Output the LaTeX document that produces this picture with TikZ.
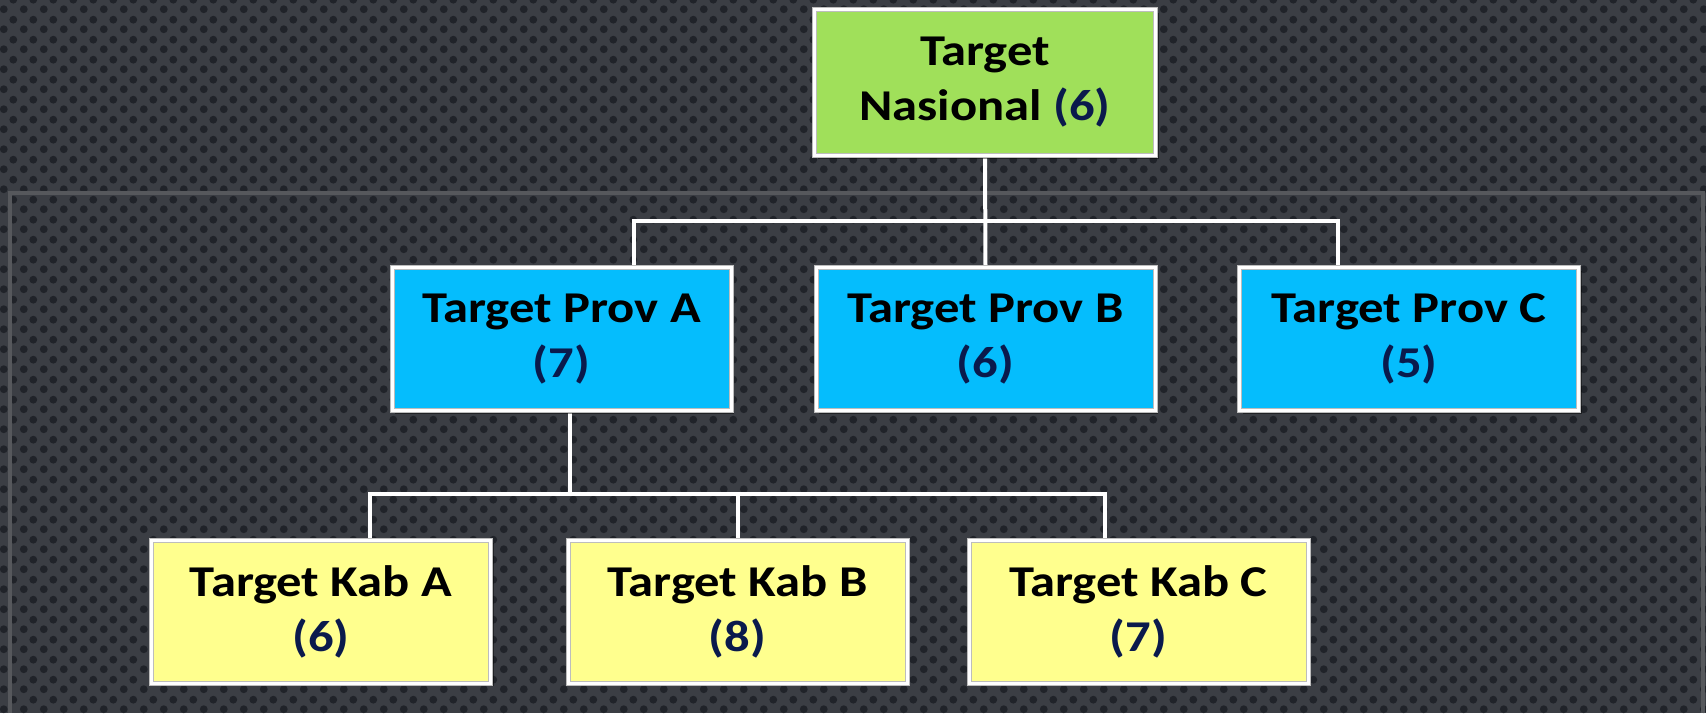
\documentclass[tikz,border=0pt]{standalone}
\usepackage{fontspec}
\setmainfont{Carlito}[FakeStretch=1.15]
\usetikzlibrary{patterns.meta,shadows}

\definecolor{bgbase}{HTML}{3B3E44}
\definecolor{bgdot}{HTML}{202329}
\definecolor{framegray}{HTML}{56585C}
\definecolor{natgreen}{HTML}{A0E05A}
\definecolor{provblue}{HTML}{05BDFD}
\definecolor{kabyellow}{HTML}{FFFF8E}
\definecolor{numnavy}{HTML}{0A1A4C}
\definecolor{rimgray}{HTML}{BDBDBD}

% perforated metal texture
\tikzdeclarepattern{
  name=perforated,
  type=uncolored,
  bounding box={(0pt,0pt) and (20pt,20pt)},
  tile size={(20pt,20pt)},
  code={
    \fill (5pt,5pt) circle (4.1pt);
    \fill (15pt,15pt) circle (4.1pt);
  }
}

\newcommand\targetcount[1]{\textcolor{numnavy}{(#1)}}

\pgfdeclarelayer{under}
\pgfsetlayers{under,main}

\begin{document}
\begin{tikzpicture}[x=1pt,y=-1pt,
  box/.style={rectangle, inner sep=0pt, align=center,
    font=\fontsize{44}{55}\selectfont\bfseries, text=black,
    draw=rimgray, double=white, double distance=3pt, line width=1pt,
    minimum width=339pt, minimum height=143pt,
    drop shadow={shadow xshift=3pt, shadow yshift=-3pt, opacity=0.45, fill=black}},
  natbox/.style={box, fill=natgreen, minimum width=341pt, minimum height=146pt},
  provbox/.style={box, fill=provblue},
  kabbox/.style={box, fill=kabyellow},
  conn/.style={draw=white, line width=4pt},
]
\useasboundingbox (0,0) rectangle (1706,713);

\begin{pgfonlayer}{under}
  \fill[bgbase] (0,0) rectangle (1706,713);
  \fill[pattern=perforated, pattern color=bgdot] (0,0) rectangle (1706,713);
  \draw[framegray, line width=4pt] (10,713) -- (10,193) -- (1703,193) -- (1703,713);
\end{pgfonlayer}

% national level
\node[natbox] (nat) at (985,82.5) {Target\\Nasional \targetcount{6}};

% provincial level
\node[provbox] (provA) at (561.5,339) {Target Prov A\\\targetcount{7}};
\node[provbox] (provB) at (985.5,339) {Target Prov B\\\targetcount{6}};
\node[provbox] (provC) at (1409,339) {Target Prov C\\\targetcount{5}};

% district level
\node[kabbox] (kabA) at (321,611.5) {Target Kab A\\\targetcount{6}};
\node[kabbox] (kabB) at (737.5,611.5) {Target Kab B\\\targetcount{8}};
\node[kabbox] (kabC) at (1138.5,611.5) {Target Kab C\\\targetcount{7}};

% bus junctions
\coordinate (busL) at (634,221);
\coordinate (busR) at (1338,221);
\coordinate (kabTop) at (570,494);
\coordinate (kabL) at (370,494);
\coordinate (kabR) at (1105,494);

\begin{pgfonlayer}{under}
  \draw[conn] (nat.south) -- (provB.north);
  \draw[conn] (busL |- provA.north) |- (busR) -- (busR |- provC.north);
  \draw[conn] (provA.south -| kabTop) -- (kabTop);
  \draw[conn] (kabL |- kabA.north) |- (kabR) -- (kabR |- kabC.north);
  \draw[conn] (kabB.north) -- (kabB.north |- kabL);
\end{pgfonlayer}
\end{tikzpicture}
\end{document}
